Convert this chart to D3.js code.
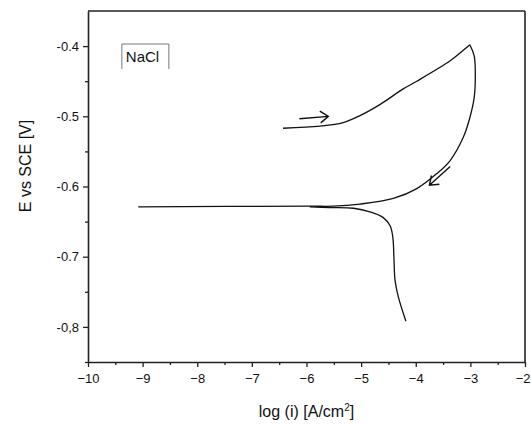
<!DOCTYPE html>
<html>
<head>
<meta charset="utf-8">
<script src="https://cdn.jsdelivr.net/npm/d3@7"></script>
<style>
  body { margin: 0; background: #fff; }
  text { font-family: "Liberation Sans", Arial, sans-serif; }
</style>
</head>
<body>
<div id="chart"></div>
<script>
// Forward (anodic) scan, log(i) vs E
const forwardX = [-6.43, -5.75, -5.33, -5.02, -4.65, -4.23, -3.98, -3.37, -3.13, -3.01];
const forwardY = [-0.517, -0.514, -0.509, -0.499, -0.483, -0.461, -0.450, -0.421, -0.406, -0.398];

// Reverse scan back down to the corrosion potential
const reverseX = [-3.01, -2.93, -2.91, -2.93, -3.01, -3.13, -3.37, -3.62, -3.98, -4.41, -5.02, -5.51, -5.94, -9.08];
const reverseY = [-0.398, -0.414, -0.445, -0.473, -0.502, -0.530, -0.563, -0.582, -0.603, -0.617, -0.625, -0.628, -0.628, -0.629];

// Cathodic branch
const cathodicX = [-5.94, -5.57, -5.14, -4.84, -4.60, -4.47, -4.42, -4.40, -4.38, -4.32, -4.18];
const cathodicY = [-0.629, -0.630, -0.631, -0.636, -0.644, -0.656, -0.672, -0.700, -0.733, -0.757, -0.792];

// Tick values and labels
const xTicks = [-10, -9, -8, -7, -6, -5, -4, -3, -2];
const xMinor = [-9.5, -8.5, -7.5, -6.5, -5.5, -4.5, -3.5, -2.5];
const yTicks = [-0.8, -0.7, -0.6, -0.5, -0.4];
const yTickLabels = ["-0,8", "-0.7", "-0.6", "-0.5", "-0.4"];
const yMinor = [-0.85, -0.75, -0.65, -0.55, -0.45];

// Direction arrows [x0, y0, x1, y1]
const arrows = [
    [-6.13, -0.5034, -5.60, -0.5001],
    [-3.37, -0.5714, -3.75, -0.5983]
];

const margin = { top: 11, right: 6, bottom: 62, left: 88 };
const width = 531 - margin.left - margin.right;
const height = 424 - margin.top - margin.bottom;

const svg = d3.select("#chart")
    .append("svg")
    .attr("width", 531)
    .attr("height", 424)
    .append("g")
    .attr("transform", "translate(" + margin.left + "," + margin.top + ")");

const xScale = d3.scaleLinear().domain([-10, -2]).range([0, width]);
const yScale = d3.scaleLinear().domain([-0.85, -0.35]).range([height, 0]);

// Axes with minor ticks
svg.append("g")
    .attr("transform", "translate(0," + height + ")")
    .call(d3.axisBottom(xScale).tickValues(xMinor).tickSize(3).tickFormat(""))
    .call(g => g.select(".domain").remove());

const xAxis = svg.append("g")
    .attr("transform", "translate(0," + height + ")")
    .call(d3.axisBottom(xScale).tickValues(xTicks).tickSize(5).tickSizeOuter(0).tickPadding(7));

svg.append("g")
    .call(d3.axisLeft(yScale).tickValues(yMinor).tickSize(3).tickFormat(""))
    .call(g => g.select(".domain").remove());

svg.append("g")
    .call(d3.axisLeft(yScale).tickValues(yTicks).tickSize(5).tickSizeOuter(0).tickPadding(4)
        .tickFormat((d, i) => yTickLabels[i]));

svg.selectAll(".tick line").attr("stroke", "#222").attr("stroke-width", 1.3);
svg.selectAll(".domain").attr("stroke", "#222").attr("stroke-width", 1.6);
svg.selectAll(".tick text").attr("font-size", 13).attr("fill", "#111")
    .style("font-family", "'Liberation Sans', Arial, sans-serif");

// keep the last x label inside the window
xAxis.selectAll(".tick text").filter(d => d === -2)
    .attr("text-anchor", "end").attr("dx", 5);

// Top and right frame
svg.append("line").attr("x1", 0).attr("x2", width).attr("y1", 0).attr("y2", 0)
    .attr("stroke", "#222").attr("stroke-width", 1.6);
svg.append("line").attr("x1", width).attr("x2", width).attr("y1", 0).attr("y2", height)
    .attr("stroke", "#222").attr("stroke-width", 1.6);

// Curves
const line = d3.line()
    .x(d => xScale(d[0]))
    .y(d => yScale(d[1]))
    .curve(d3.curveCatmullRom);

[[forwardX, forwardY], [reverseX, reverseY], [cathodicX, cathodicY]].forEach(([xs, ys]) => {
    svg.append("path")
        .datum(xs.map((x, i) => [x, ys[i]]))
        .attr("fill", "none")
        .attr("stroke", "#111")
        .attr("stroke-width", 1.3)
        .attr("d", line);
});

// Arrows
arrows.forEach(a => {
    const x0 = xScale(a[0]), y0 = yScale(a[1]), x1 = xScale(a[2]), y1 = yScale(a[3]);
    const ang = Math.atan2(y1 - y0, x1 - x0);
    const len = 10, spread = Math.PI / 5;
    svg.append("path")
        .attr("fill", "none")
        .attr("stroke", "#111")
        .attr("stroke-width", 1.4)
        .attr("d", "M" + x0 + "," + y0 + "L" + x1 + "," + y1 +
            "M" + (x1 - len * Math.cos(ang - spread)) + "," + (y1 - len * Math.sin(ang - spread)) +
            "L" + x1 + "," + y1 +
            "L" + (x1 - len * Math.cos(ang + spread)) + "," + (y1 - len * Math.sin(ang + spread)));
});

// Legend label box
const lx = xScale(-9.38), ly = yScale(-0.397);
svg.append("path")
    .attr("d", "M" + lx + "," + (ly + 25) + "V" + ly + "H" + (lx + 47) + "V" + (ly + 25))
    .attr("fill", "none")
    .attr("stroke", "#777")
    .attr("stroke-width", 1);
svg.append("text")
    .attr("x", lx + 4)
    .attr("y", ly + 18)
    .attr("font-size", 15)
    .attr("fill", "#111")
    .text("NaCl");

// Axis titles
svg.append("text")
    .attr("fill", "#111")
    .attr("x", width / 2)
    .attr("y", height + 55)
    .attr("text-anchor", "middle")
    .attr("font-size", 16)
    .html('log (i) [A/cm<tspan dy="-6" font-size="10">2</tspan><tspan dy="6">]</tspan>');

svg.append("text")
    .attr("fill", "#111")
    .attr("transform", "rotate(-90)")
    .attr("x", -(166 - margin.top))
    .attr("y", -margin.left + 31)
    .attr("text-anchor", "middle")
    .attr("font-size", 16)
    .text("E vs SCE [V]");
</script>
</body>
</html>
